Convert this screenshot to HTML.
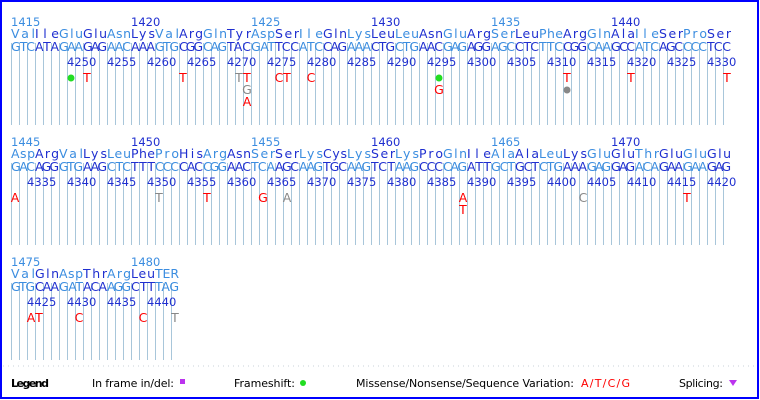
<!DOCTYPE html>
<html><head><meta charset="utf-8"><style>
html,body{margin:0;padding:0;background:#fff}
svg{display:block}
.L{fill:#3b8de0}.D{fill:#1f2fd0}
.aa,.nt{font-family:"DejaVu Sans","Liberation Sans",sans-serif;font-size:12.5px}
.num{font-family:"DejaVu Sans","Liberation Sans",sans-serif;font-size:11.5px}
.pos{font-family:"DejaVu Sans","Liberation Sans",sans-serif;font-size:11.5px;fill:#1f2fd0}
.mk{font-family:"DejaVu Sans","Liberation Sans",sans-serif;font-size:12.5px;text-anchor:middle}
.r{fill:#ff0000}.g{fill:#888}
.lg{font-family:"DejaVu Sans","Liberation Sans",sans-serif;font-size:11px;fill:#000}
</style></head><body>
<svg width="760" height="400" xmlns="http://www.w3.org/2000/svg">
<defs>
<pattern id="vl" patternUnits="userSpaceOnUse" x="11" y="0" width="8" height="10">
<rect x="0" y="0" width="1" height="10" fill="#a8c6da"/>
</pattern>
</defs>
<rect x="1" y="1" width="757" height="397" fill="#fff" stroke="#0000ff" stroke-width="2"/>
<rect x="11" y="43" width="720" height="82" fill="url(#vl)"/>
<rect x="11" y="163" width="720" height="82" fill="url(#vl)"/>
<rect x="11" y="283" width="168" height="77" fill="url(#vl)"/>

<!-- Row 1 -->
<g class="num"><text x="11" y="26" class="L">1415</text><text x="131" y="26" class="D">1420</text><text x="251" y="26" class="L">1425</text><text x="371" y="26" class="D">1430</text><text x="491" y="26" class="L">1435</text><text x="611" y="26" class="D">1440</text></g>
<g class="aa">
<text x="11" y="38" class="L" textLength="24">Val</text><text x="35" y="38" class="D" textLength="24">Ile</text><text x="59" y="38" class="L" textLength="24">Glu</text><text x="83" y="38" class="D" textLength="24">Glu</text><text x="107" y="38" class="L" textLength="24">Asn</text><text x="131" y="38" class="D" textLength="24">Lys</text><text x="155" y="38" class="L" textLength="24">Val</text><text x="179" y="38" class="D" textLength="24">Arg</text><text x="203" y="38" class="L" textLength="24">Gln</text><text x="227" y="38" class="D" textLength="24">Tyr</text><text x="251" y="38" class="L" textLength="24">Asp</text><text x="275" y="38" class="D" textLength="24">Ser</text><text x="299" y="38" class="L" textLength="24">Ile</text><text x="323" y="38" class="D" textLength="24">Gln</text><text x="347" y="38" class="L" textLength="24">Lys</text><text x="371" y="38" class="D" textLength="24">Leu</text><text x="395" y="38" class="L" textLength="24">Leu</text><text x="419" y="38" class="D" textLength="24">Asn</text><text x="443" y="38" class="L" textLength="24">Glu</text><text x="467" y="38" class="D" textLength="24">Arg</text><text x="491" y="38" class="L" textLength="24">Ser</text><text x="515" y="38" class="D" textLength="24">Leu</text><text x="539" y="38" class="L" textLength="24">Phe</text><text x="563" y="38" class="D" textLength="24">Arg</text><text x="587" y="38" class="L" textLength="24">Gln</text><text x="611" y="38" class="D" textLength="24">Ala</text><text x="635" y="38" class="L" textLength="24">Ile</text><text x="659" y="38" class="D" textLength="24">Ser</text><text x="683" y="38" class="L" textLength="24">Pro</text><text x="707" y="38" class="D" textLength="24">Ser</text>
</g>
<g class="nt">
<text x="11" y="51" class="L" textLength="24">GTC</text><text x="35" y="51" class="D" textLength="24">ATA</text><text x="59" y="51" class="L" textLength="24">GAA</text><text x="83" y="51" class="D" textLength="24">GAG</text><text x="107" y="51" class="L" textLength="24">AAC</text><text x="131" y="51" class="D" textLength="24">AAA</text><text x="155" y="51" class="L" textLength="24">GTG</text><text x="179" y="51" class="D" textLength="24">CGG</text><text x="203" y="51" class="L" textLength="24">CAG</text><text x="227" y="51" class="D" textLength="24">TAC</text><text x="251" y="51" class="L" textLength="24">GAT</text><text x="275" y="51" class="D" textLength="24">TCC</text><text x="299" y="51" class="L" textLength="24">ATC</text><text x="323" y="51" class="D" textLength="24">CAG</text><text x="347" y="51" class="L" textLength="24">AAA</text><text x="371" y="51" class="D" textLength="24">CTG</text><text x="395" y="51" class="L" textLength="24">CTG</text><text x="419" y="51" class="D" textLength="24">AAC</text><text x="443" y="51" class="L" textLength="24">GAG</text><text x="467" y="51" class="D" textLength="24">AGG</text><text x="491" y="51" class="L" textLength="24">AGC</text><text x="515" y="51" class="D" textLength="24">CTC</text><text x="539" y="51" class="L" textLength="24">TTC</text><text x="563" y="51" class="D" textLength="24">CGG</text><text x="587" y="51" class="L" textLength="24">CAA</text><text x="611" y="51" class="D" textLength="24">GCC</text><text x="635" y="51" class="L" textLength="24">ATC</text><text x="659" y="51" class="D" textLength="24">AGC</text><text x="683" y="51" class="L" textLength="24">CCC</text><text x="707" y="51" class="D" textLength="24">TCC</text>
</g>
<g class="pos">
<text x="67" y="66">4250</text><text x="107" y="66">4255</text><text x="147" y="66">4260</text><text x="187" y="66">4265</text><text x="227" y="66">4270</text><text x="267" y="66">4275</text><text x="307" y="66">4280</text><text x="347" y="66">4285</text><text x="387" y="66">4290</text><text x="427" y="66">4295</text><text x="467" y="66">4300</text><text x="507" y="66">4305</text><text x="547" y="66">4310</text><text x="587" y="66">4315</text><text x="627" y="66">4320</text><text x="667" y="66">4325</text><text x="707" y="66">4330</text>
</g>
<circle cx="71" cy="78" r="3.5" fill="#22dd22"/>
<circle cx="439" cy="78" r="3.5" fill="#22dd22"/>
<circle cx="567" cy="90" r="3.5" fill="#888"/>
<g class="mk">
<text x="87" y="82" class="r">T</text><text x="183" y="82" class="r">T</text><text x="239" y="82" class="g">T</text><text x="247" y="82" class="r">T</text><text x="247" y="94" class="g">G</text><text x="247" y="106" class="r">A</text><text x="279" y="82" class="r">C</text><text x="287" y="82" class="r">T</text><text x="311" y="82" class="r">C</text><text x="439" y="94" class="r">G</text><text x="567" y="82" class="r">T</text><text x="631" y="82" class="r">T</text><text x="727" y="82" class="r">T</text>
</g>

<!-- Row 2 -->
<g class="num"><text x="11" y="146" class="L">1445</text><text x="131" y="146" class="D">1450</text><text x="251" y="146" class="L">1455</text><text x="371" y="146" class="D">1460</text><text x="491" y="146" class="L">1465</text><text x="611" y="146" class="D">1470</text></g>
<g class="aa">
<text x="11" y="158" class="L" textLength="24">Asp</text><text x="35" y="158" class="D" textLength="24">Arg</text><text x="59" y="158" class="L" textLength="24">Val</text><text x="83" y="158" class="D" textLength="24">Lys</text><text x="107" y="158" class="L" textLength="24">Leu</text><text x="131" y="158" class="D" textLength="24">Phe</text><text x="155" y="158" class="L" textLength="24">Pro</text><text x="179" y="158" class="D" textLength="24">His</text><text x="203" y="158" class="L" textLength="24">Arg</text><text x="227" y="158" class="D" textLength="24">Asn</text><text x="251" y="158" class="L" textLength="24">Ser</text><text x="275" y="158" class="D" textLength="24">Ser</text><text x="299" y="158" class="L" textLength="24">Lys</text><text x="323" y="158" class="D" textLength="24">Cys</text><text x="347" y="158" class="L" textLength="24">Lys</text><text x="371" y="158" class="D" textLength="24">Ser</text><text x="395" y="158" class="L" textLength="24">Lys</text><text x="419" y="158" class="D" textLength="24">Pro</text><text x="443" y="158" class="L" textLength="24">Gln</text><text x="467" y="158" class="D" textLength="24">Ile</text><text x="491" y="158" class="L" textLength="24">Ala</text><text x="515" y="158" class="D" textLength="24">Ala</text><text x="539" y="158" class="L" textLength="24">Leu</text><text x="563" y="158" class="D" textLength="24">Lys</text><text x="587" y="158" class="L" textLength="24">Glu</text><text x="611" y="158" class="D" textLength="24">Glu</text><text x="635" y="158" class="L" textLength="24">Thr</text><text x="659" y="158" class="D" textLength="24">Glu</text><text x="683" y="158" class="L" textLength="24">Glu</text><text x="707" y="158" class="D" textLength="24">Glu</text>
</g>
<g class="nt">
<text x="11" y="171" class="L" textLength="24">GAC</text><text x="35" y="171" class="D" textLength="24">AGG</text><text x="59" y="171" class="L" textLength="24">GTG</text><text x="83" y="171" class="D" textLength="24">AAG</text><text x="107" y="171" class="L" textLength="24">CTC</text><text x="131" y="171" class="D" textLength="24">TTT</text><text x="155" y="171" class="L" textLength="24">CCC</text><text x="179" y="171" class="D" textLength="24">CAC</text><text x="203" y="171" class="L" textLength="24">CGG</text><text x="227" y="171" class="D" textLength="24">AAC</text><text x="251" y="171" class="L" textLength="24">TCA</text><text x="275" y="171" class="D" textLength="24">AGC</text><text x="299" y="171" class="L" textLength="24">AAG</text><text x="323" y="171" class="D" textLength="24">TGC</text><text x="347" y="171" class="L" textLength="24">AAG</text><text x="371" y="171" class="D" textLength="24">TCT</text><text x="395" y="171" class="L" textLength="24">AAG</text><text x="419" y="171" class="D" textLength="24">CCC</text><text x="443" y="171" class="L" textLength="24">CAG</text><text x="467" y="171" class="D" textLength="24">ATT</text><text x="491" y="171" class="L" textLength="24">GCT</text><text x="515" y="171" class="D" textLength="24">GCT</text><text x="539" y="171" class="L" textLength="24">CTG</text><text x="563" y="171" class="D" textLength="24">AAA</text><text x="587" y="171" class="L" textLength="24">GAG</text><text x="611" y="171" class="D" textLength="24">GAG</text><text x="635" y="171" class="L" textLength="24">ACA</text><text x="659" y="171" class="D" textLength="24">GAA</text><text x="683" y="171" class="L" textLength="24">GAA</text><text x="707" y="171" class="D" textLength="24">GAG</text>
</g>
<g class="pos">
<text x="27" y="186">4335</text><text x="67" y="186">4340</text><text x="107" y="186">4345</text><text x="147" y="186">4350</text><text x="187" y="186">4355</text><text x="227" y="186">4360</text><text x="267" y="186">4365</text><text x="307" y="186">4370</text><text x="347" y="186">4375</text><text x="387" y="186">4380</text><text x="427" y="186">4385</text><text x="467" y="186">4390</text><text x="507" y="186">4395</text><text x="547" y="186">4400</text><text x="587" y="186">4405</text><text x="627" y="186">4410</text><text x="667" y="186">4415</text><text x="707" y="186">4420</text>
</g>
<g class="mk">
<text x="15" y="202" class="r">A</text><text x="159" y="202" class="g">T</text><text x="207" y="202" class="r">T</text><text x="263" y="202" class="r">G</text><text x="287" y="202" class="g">A</text><text x="463" y="202" class="r">A</text><text x="463" y="214" class="r">T</text><text x="583" y="202" class="g">C</text><text x="687" y="202" class="r">T</text>
</g>

<!-- Row 3 -->
<g class="num"><text x="11" y="266" class="L">1475</text><text x="131" y="266" class="L">1480</text></g>
<g class="aa">
<text x="11" y="278" class="L" textLength="24">Val</text><text x="35" y="278" class="D" textLength="24">Gln</text><text x="59" y="278" class="L" textLength="24">Asp</text><text x="83" y="278" class="D" textLength="24">Thr</text><text x="107" y="278" class="L" textLength="24">Arg</text><text x="131" y="278" class="D" textLength="24">Leu</text><text x="155" y="278" class="L" textLength="24">TER</text>
</g>
<g class="nt">
<text x="11" y="291" class="L" textLength="24">GTG</text><text x="35" y="291" class="D" textLength="24">CAA</text><text x="59" y="291" class="L" textLength="24">GAT</text><text x="83" y="291" class="D" textLength="24">ACA</text><text x="107" y="291" class="L" textLength="24">AGG</text><text x="131" y="291" class="D" textLength="24">CTT</text><text x="155" y="291" class="L" textLength="24">TAG</text>
</g>
<g class="pos"><text x="27" y="306">4425</text><text x="67" y="306">4430</text><text x="107" y="306">4435</text><text x="147" y="306">4440</text></g>
<g class="mk">
<text x="31" y="322" class="r">A</text><text x="39" y="322" class="r">T</text><text x="79" y="322" class="r">C</text><text x="143" y="322" class="r">C</text><text x="175" y="322" class="g">T</text>
</g>

<!-- Legend -->
<line x1="3" y1="366" x2="757" y2="366" stroke="#c8d0d8" stroke-width="1" stroke-dasharray="1,4"/>
<text x="11" y="387" class="lg" font-weight="bold" textLength="38">Legend</text>
<text x="92" y="387" class="lg" textLength="82">In frame in/del:</text>
<rect x="180" y="379" width="5" height="5" fill="#bb33ee"/>
<text x="234" y="387" class="lg" textLength="61">Frameshift:</text>
<circle cx="303" cy="383" r="3" fill="#22dd22"/>
<text x="356" y="387" class="lg" textLength="218">Missense/Nonsense/Sequence Variation:</text>
<text x="581" y="387" class="lg" style="fill:#ff0000" textLength="49">A/T/C/G</text>
<text x="679" y="387" class="lg" textLength="44">Splicing:</text>
<polygon points="729,380 737,380 733,386" fill="#bb33ee"/>
</svg>
</body></html>
